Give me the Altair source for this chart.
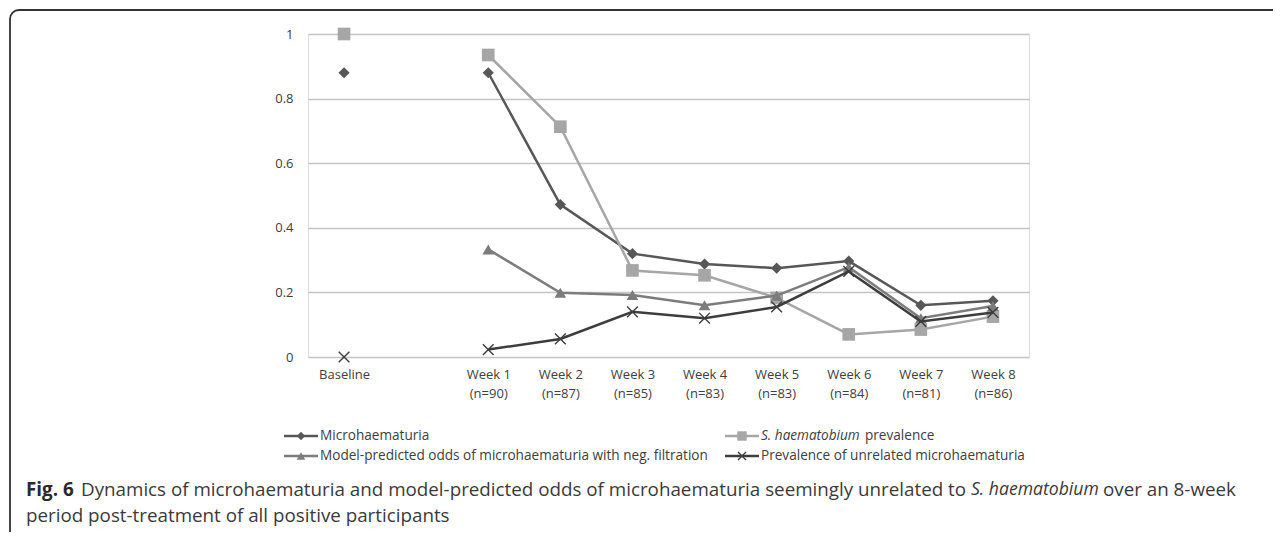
import json
import altair as alt
import pandas as pd

# ---------------- data ----------------
categories = ["Baseline", "Week 1", "Week 2", "Week 3", "Week 4",
              "Week 5", "Week 6", "Week 7", "Week 8"]
sample_sizes = [None, 90, 87, 85, 83, 83, 84, 81, 86]

microhaematuria = [0.88, 0.88, 0.472, 0.32, 0.288, 0.275, 0.297, 0.16, 0.174]
sh_prevalence = [1.0, 0.935, 0.713, 0.268, 0.253, 0.183, 0.07, 0.085, 0.125]
model_odds = [None, 0.333, 0.199, 0.192, 0.16, 0.19, 0.278, 0.12, 0.158]
unrelated = [0.0, 0.023, 0.056, 0.14, 0.12, 0.155, 0.265, 0.11, 0.138]

series_names = [
    "Microhaematuria",
    "S. haematobium prevalence",
    "Model-predicted odds of microhaematuria with neg. filtration",
    "Prevalence of unrelated microhaematuria",
]
series_values = [microhaematuria, sh_prevalence, model_odds, unrelated]

rows = []
for name, vals in zip(series_names, series_values):
    for cat, v in zip(categories, vals):
        if v is not None:
            rows.append({"series": name, "category": cat, "value": v})
df = pd.DataFrame(rows)

# ---------------- styling ----------------
XMARK = "M-1,-1L1,1M-1,1L1,-1"
styles = {
    series_names[0]: dict(color="#575757", shape="diamond", size=125, filled=True, sw=0),
    series_names[1]: dict(color="#a6a6a6", shape="square", size=160, filled=True, sw=0),
    series_names[2]: dict(color="#7c7c7c", shape="triangle-up", size=135, filled=True, sw=0),
    series_names[3]: dict(color="#3d3d3d", shape=XMARK, size=115, filled=False, sw=1.4),
}
FONT = "Open Sans"
TXT = "#404040"

domain = ["Baseline", "gap"] + categories[1:]
label_map = {"Baseline": ["Baseline"], "gap": [""]}
for cat, n in zip(categories[1:], sample_sizes[1:]):
    label_map[cat] = [cat, f"(n={n})"]
label_expr = ""
for k, v in label_map.items():
    label_expr += f"datum.value === '{k}' ? {json.dumps(v)} : "
label_expr += "''"

x_enc = alt.X(
    "category:N",
    scale=alt.Scale(domain=domain, type="point", padding=0.5),
    axis=alt.Axis(title=None, domain=False, ticks=False, grid=False, labelAngle=0,
                  labelExpr=label_expr, labelPadding=11, labelLineHeight=19,
                  labelFont=FONT, labelFontSize=13, labelColor=TXT,
                  labelBaseline="top"),
)
y_enc = alt.Y(
    "value:Q",
    scale=alt.Scale(domain=[0, 1], nice=False),
    axis=alt.Axis(title=None, domain=False, ticks=False, grid=True,
                  values=[0, 0.2, 0.4, 0.6, 0.8, 1.0], format=".1~f",
                  gridColor="#c4c4c4", gridWidth=1.5, labelPadding=15,
                  labelFont=FONT, labelFontSize=13, labelColor=TXT),
)

layers = []
base = alt.Chart(df)
for name in series_names:
    st = styles[name]
    sub = base.transform_filter(alt.datum.series == name)
    layers.append(
        sub.transform_filter(alt.datum.category != "Baseline")
        .mark_line(color=st["color"], strokeWidth=2.5)
        .encode(x=x_enc, y=y_enc)
    )
    layers.append(
        sub.mark_point(shape=st["shape"], size=st["size"], filled=st["filled"],
                       color=st["color"], opacity=1, strokeWidth=st["sw"] if st["sw"] else 1)
        .encode(x=x_enc, y=y_enc)
    )

one = pd.DataFrame({"k": [0]})

# plot origin on the page
OX, OY = 308, 34


def text(s, x, y, size=13.6, style="normal", weight="normal", color=TXT):
    return alt.Chart(one).mark_text(
        text=s, align="left", baseline="middle", font=FONT, fontSize=size,
        fontStyle=style, fontWeight=weight, color=color,
    ).encode(x=alt.value(x - OX), y=alt.value(y - OY))


def legend_symbol(name, x0, y):
    st = styles[name]
    out = [
        alt.Chart(one).mark_rule(color=st["color"], strokeWidth=2.5).encode(
            x=alt.value(x0 - OX), x2=alt.value(x0 + 34 - OX), y=alt.value(y - OY)),
        alt.Chart(one).mark_point(shape=st["shape"], size=st["size"] * 0.55,
                                  filled=st["filled"], color=st["color"], opacity=1,
                                  strokeWidth=st["sw"] if st["sw"] else 1).encode(
            x=alt.value(x0 + 17 - OX), y=alt.value(y - OY)),
    ]
    return out


R1, R2 = 436, 456
C1, C2 = 284, 725
layers += legend_symbol(series_names[0], C1, R1)
layers.append(text("Microhaematuria", C1 + 36, R1))
layers += legend_symbol(series_names[1], C2, R1)
layers.append(text("S. haematobium", C2 + 36, R1, style="italic"))
layers.append(text("prevalence", C2 + 36 + 104, R1))
layers += legend_symbol(series_names[2], C1, R2)
layers.append(text(series_names[2], C1 + 36, R2))
layers += legend_symbol(series_names[3], C2, R2)
layers.append(text(series_names[3], C2 + 36, R2))

# caption
CAP = "#3a3a3a"
L1, L2 = 490, 516
layers.append(text("Fig. 6", 26, L1, size=18.8, weight="bold", color="#2a2a2a"))
layers.append(text("Dynamics of microhaematuria and model-predicted odds of microhaematuria "
                   "seemingly unrelated to", 81, L1, size=18.8, color=CAP))
layers.append(text("S. haematobium", 971, L1, size=17.6, style="italic", color=CAP))
layers.append(text("over an 8-week", 1103, L1, size=18.8, color=CAP))
layers.append(text("period post-treatment of all positive participants", 26, L2, size=18.8, color=CAP))

# frame around the figure
layers.append(
    alt.Chart(one).mark_rect(fillOpacity=0, stroke="#333333", strokeWidth=1.8,
                             cornerRadius=9).encode(
        x=alt.value(10 - OX), x2=alt.value(1300 - OX),
        y=alt.value(10 - OY), y2=alt.value(580 - OY))
)

chart = alt.layer(*layers).properties(
    width=721, height=323,
    padding={"left": OX - 8, "top": OY - 8, "right": 1265 - 721 - (OX - 8),
             "bottom": 524 - 323 - (OY - 8)},
    autosize=alt.AutoSizeParams(type="none"),
).configure_view(strokeWidth=0).configure(background="white")

chart.save("out.html", embed_options={"renderer": "svg", "actions": False})
